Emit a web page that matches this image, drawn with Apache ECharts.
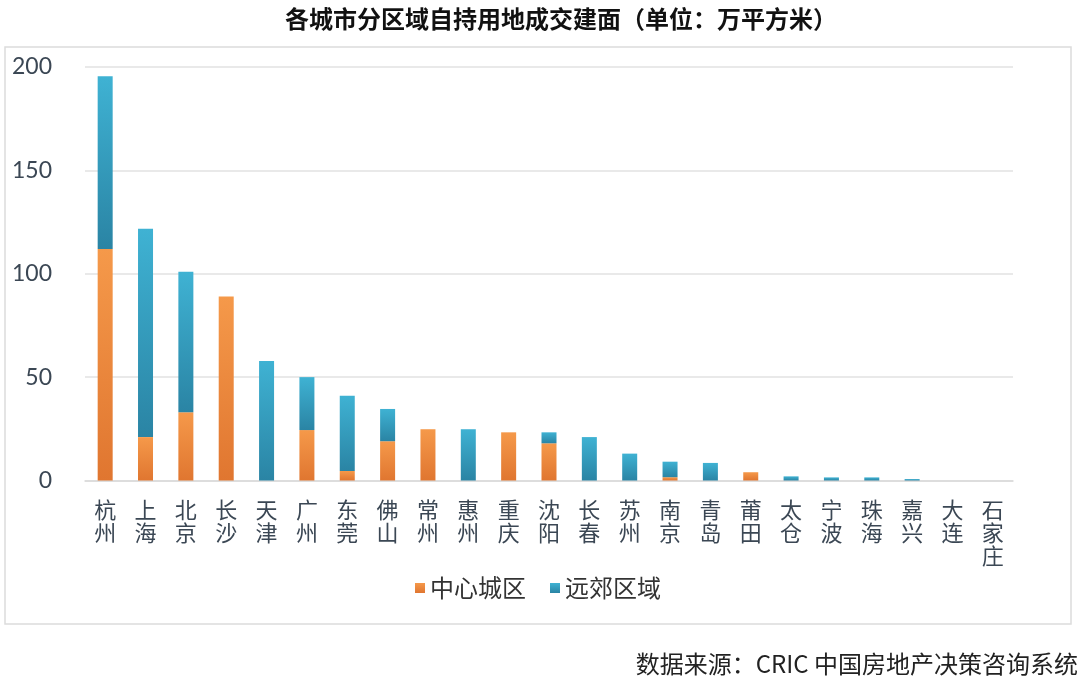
<!DOCTYPE html>
<html>
<head>
<meta charset="utf-8">
<title>各城市分区域自持用地成交建面</title>
<script src="https://cdn.jsdelivr.net/npm/echarts@6/dist/echarts.min.js"></script>
<style>
  html, body { margin: 0; padding: 0; background: #fff; }
  #chart { width: 1080px; height: 683px; }
</style>
</head>
<body>
<div id="chart"></div>
<script>
// 城市（横轴类目）
var cities = ['杭州', '上海', '北京', '长沙', '天津', '广州', '东莞', '佛山', '常州', '惠州', '重庆', '沈阳',
  '长春', '苏州', '南京', '青岛', '莆田', '太仓', '宁波', '珠海', '嘉兴', '大连', '石家庄'];
// 中心城区（万平方米）
var centerArea = [112, 21, 33, 89, 0, 24.4, 4.6, 19, 24.8, 0, 23.3, 18, 0, 0, 1.6, 0, 4, 0, 0, 0, 0, 0, 0];
// 远郊区域（万平方米）
var suburbArea = [83.5, 100.8, 68, 0, 57.8, 25.6, 36.4, 15.6, 0, 24.8, 0, 5.3, 21, 13, 7.5, 8.5, 0, 2, 1.5, 1.5, 0.7, 0, 0];
// 纵轴刻度
var yTicks = [0, 50, 100, 150, 200];

var labelColor = '#3b4754';
var font = '"Noto Sans CJK SC", "Noto Sans", sans-serif';

var myChart = echarts.init(document.getElementById('chart'));

var option = {
  animation: false,
  textStyle: { fontFamily: font },
  title: {
    text: '各城市分区域自持用地成交建面（单位：万平方米）',
    left: 556,
    top: 2,
    textAlign: 'center',
    textStyle: { fontSize: 24, fontWeight: 'bold', color: '#111', fontFamily: font }
  },
  // 外框和数据来源
  graphic: [
    {
      type: 'rect',
      shape: { x: 5, y: 47, width: 1066, height: 577 },
      style: { fill: 'none', stroke: '#dcdcdc', lineWidth: 1.5 },
      z: -1
    },
    {
      type: 'text',
      right: 2,
      top: 652,
      style: {
        text: '数据来源：CRIC 中国房地产决策咨询系统',
        fill: '#222',
        font: '24px ' + font
      }
    }
  ],
  legend: {
    data: ['中心城区', '远郊区域'],
    left: 410,
    top: 571,
    icon: 'rect',
    itemWidth: 10,
    itemHeight: 10,
    itemGap: 24,
    textStyle: { fontSize: 24, color: '#333', fontFamily: font }
  },
  grid: {
    left: 85,
    right: 67,
    top: 67,
    bottom: 202.5,
    containLabel: false
  },
  xAxis: {
    type: 'category',
    data: cities,
    axisTick: { show: false },
    axisLine: { lineStyle: { color: '#d9d9d9', width: 1.5 } },
    axisLabel: {
      interval: 0,
      margin: 18,
      fontSize: 22,
      lineHeight: 23,
      color: labelColor,
      fontFamily: font,
      formatter: function (v) { return v.split('').join('\n'); }
    }
  },
  yAxis: {
    type: 'value',
    min: yTicks[0],
    max: yTicks[yTicks.length - 1],
    interval: 50,
    axisLine: { show: false },
    axisTick: { show: false },
    splitLine: { lineStyle: { color: '#e2e2e2', width: 1.5 } },
    axisLabel: {
      margin: 33,
      fontSize: 23,
      color: labelColor,
      fontFamily: 'Lato, "Noto Sans", sans-serif'
    }
  },
  series: [
    {
      name: '中心城区',
      type: 'bar',
      stack: 'total',
      data: centerArea,
      barWidth: 15,
      itemStyle: {
        color: new echarts.graphic.LinearGradient(0, 0, 0, 1, [
          { offset: 0, color: '#f5994a' },
          { offset: 1, color: '#e07630' }
        ])
      }
    },
    {
      name: '远郊区域',
      type: 'bar',
      stack: 'total',
      data: suburbArea,
      barWidth: 15,
      itemStyle: {
        color: new echarts.graphic.LinearGradient(0, 0, 0, 1, [
          { offset: 0, color: '#3fb2d3' },
          { offset: 1, color: '#2a84a4' }
        ])
      }
    }
  ]
};

myChart.setOption(option);
</script>
</body>
</html>
